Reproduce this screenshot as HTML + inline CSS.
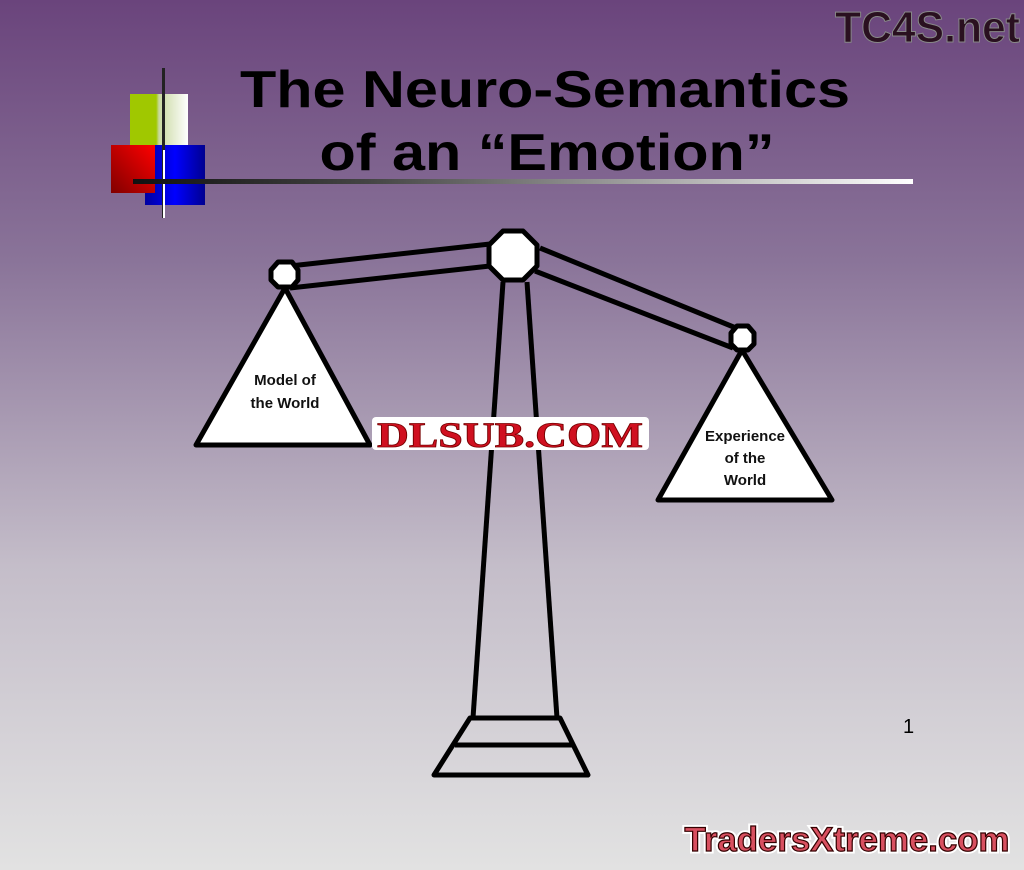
<!DOCTYPE html>
<html><head><meta charset="utf-8"><style>
html,body{margin:0;padding:0;width:1024px;height:870px;overflow:hidden}
</style></head><body>
<svg width="1024" height="870" viewBox="0 0 1024 870" xmlns="http://www.w3.org/2000/svg" font-family="Liberation Sans, sans-serif">
<defs>
<linearGradient id="bg" x1="0" y1="0" x2="0" y2="1">
<stop offset="0" stop-color="#6a447c"/><stop offset="0.3" stop-color="#8a7499"/><stop offset="0.65" stop-color="#c4bdc9"/><stop offset="1" stop-color="#e2e2e2"/>
</linearGradient>
<linearGradient id="gw" x1="0" x2="1"><stop offset="0" stop-color="#a0c800"/><stop offset="0.45" stop-color="#a0c800"/><stop offset="0.5" stop-color="#c8d8a0"/><stop offset="1" stop-color="#ffffff"/></linearGradient>
<linearGradient id="rd" x1="1" y1="0" x2="0" y2="1"><stop offset="0" stop-color="#ff0000"/><stop offset="1" stop-color="#800000"/></linearGradient>
<linearGradient id="bl" x1="0" x2="1"><stop offset="0" stop-color="#0000a0"/><stop offset="0.5" stop-color="#0000ff"/><stop offset="1" stop-color="#000090"/></linearGradient>
<linearGradient id="ln" x1="0" x2="1"><stop offset="0" stop-color="#111"/><stop offset="0.3" stop-color="#444"/><stop offset="1" stop-color="#fff"/></linearGradient>
</defs>
<rect width="1024" height="870" fill="url(#bg)"/>
<!-- logo -->
<rect x="130" y="94" width="58" height="52" fill="url(#gw)"/>
<rect x="145" y="145" width="60" height="60" fill="url(#bl)"/>
<rect x="111" y="145" width="44" height="48" fill="url(#rd)"/>
<rect x="162" y="68" width="3" height="150" fill="#222"/>
<rect x="163" y="150" width="2" height="68" fill="#fff"/>
<rect x="133" y="179" width="780" height="5" fill="url(#ln)"/>
<!-- title -->
<g font-weight="bold" font-size="52" fill="#000" text-anchor="middle">
<text x="545" y="107" textLength="610" lengthAdjust="spacingAndGlyphs">The Neuro-Semantics</text>
<text x="547" y="170" textLength="455" lengthAdjust="spacingAndGlyphs">of an “Emotion”</text>
</g>
<text x="1020" y="42" text-anchor="end" font-size="44" font-weight="bold" fill="#2a1020" stroke="#888" stroke-width="1" textLength="185" lengthAdjust="spacingAndGlyphs">TC4S.net</text>
<!-- scale -->
<g stroke="#000" stroke-width="5" fill="none" stroke-linejoin="round">
<line x1="290" y1="266" x2="490" y2="244"/>
<line x1="290" y1="288" x2="490" y2="266"/>
<line x1="540" y1="248" x2="736" y2="328"/>
<line x1="535" y1="271" x2="733" y2="348"/>
<line x1="503" y1="282" x2="473" y2="718"/>
<line x1="527" y1="282" x2="557" y2="718"/>
<line x1="470" y1="718" x2="560" y2="718"/>
<polygon points="470,718 560,718 588,775 434,775" />
<line x1="455" y1="745" x2="573" y2="745"/>
<polygon points="285,288 370,445 196,445" fill="#fff"/>
<polygon points="742,350 832,500 658,500" fill="#fff"/>
<polygon points="503,231 523,231 537,245 537,266 523,280 503,280 489,266 489,245" fill="#fff"/>
<polygon points="278,262 292,262 298,270 298,280 292,287 278,287 271,280 271,270" fill="#fff"/>
<polygon points="737,326 748,326 754,333 754,344 748,350 737,350 731,344 731,333" fill="#fff"/>
</g>
<g font-size="15" font-weight="bold" fill="#111" text-anchor="middle">
<text x="285" y="385">Model of</text>
<text x="285" y="408">the World</text>
<text x="745" y="441">Experience</text>
<text x="745" y="463">of the</text>
<text x="745" y="485">World</text>
</g>
<text x="903" y="733" font-size="20" fill="#000">1</text>
<!-- watermarks -->
<rect x="372" y="417" width="277" height="33" rx="4" fill="#fff"/>
<text x="510" y="447" text-anchor="middle" font-family="Liberation Serif, serif" font-weight="bold" font-size="36" fill="#d01020" stroke="#700" stroke-width="0.8" textLength="266" lengthAdjust="spacingAndGlyphs">DLSUB.COM</text>
<text x="847" y="851" text-anchor="middle" font-weight="bold" font-size="34" fill="#d85060" stroke="#fff" stroke-width="5" paint-order="stroke" textLength="325" lengthAdjust="spacingAndGlyphs">TradersXtreme.com</text>
<text x="847" y="851" text-anchor="middle" font-weight="bold" font-size="34" fill="#d85060" stroke="#300" stroke-width="1.2" textLength="325" lengthAdjust="spacingAndGlyphs">TradersXtreme.com</text>
</svg>
</body></html>
